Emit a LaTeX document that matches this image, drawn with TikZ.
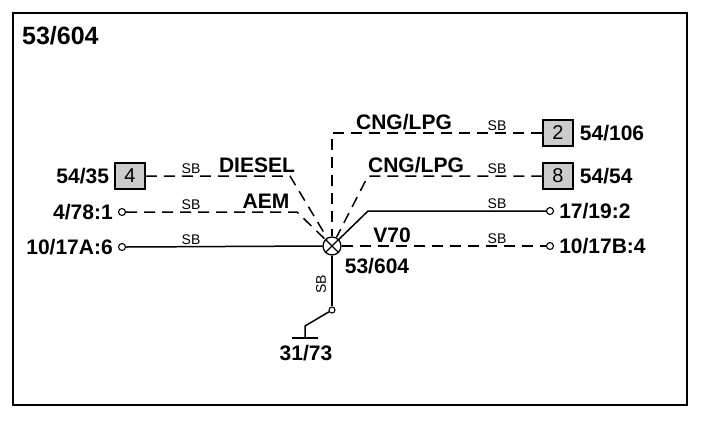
\documentclass[tikz,border=0pt]{standalone}
\usepackage{fontspec}
\setmainfont{Liberation Sans}
\usetikzlibrary{positioning}
\begin{document}
\begin{tikzpicture}[x=1pt,y=-1pt,
		wire/.style={line width=1.5pt},
		dwire/.style={line width=1.5pt, dash pattern=on 11pt off 7pt},
		term/.style={circle, draw, line width=1.1pt, fill=white, minimum size=7pt, inner sep=0pt},
		plug/.style={draw, line width=1.5pt, fill=black!20, minimum width=30pt, minimum height=26pt, inner sep=0pt, font=\fontsize{20}{20}\selectfont},
		lbl/.style={font=\bfseries\fontsize{21}{21}\selectfont, inner sep=1pt},
		sblbl/.style={font=\fontsize{14}{14}\selectfont, inner sep=0pt, anchor=base}]
		\useasboundingbox (0,0) rectangle (704,432);
		\draw[line width=2.5pt] (13,13) rectangle (687,405);
		\node[anchor=west, font=\bfseries\fontsize{25}{25}\selectfont, inner sep=0pt] (title) at (22,36) {53/604};
		
		\node[circle, draw, line width=1.3pt, minimum size=18pt, inner sep=0pt] (J) at (332,246) {};
		\draw[line width=1.2pt] (J.north east) -- (J.south west) (J.north west) -- (J.south east);
		
		\node[plug] (b4) at (130,176) {4};
		\node[term] (c478) at (122,212) {};
		\node[term] (c1017a) at (122,247) {};
		\node[lbl, left=4pt of b4] {54/35};
		\node[lbl, left=4pt of c478] {4/78:1};
		\node[lbl, left=4pt of c1017a] {10/17A:6};
		
		\node[plug] (b2) at (558,133) {2};
		\node[plug] (b8) at (558,176) {8};
		\node[term] (c1719) at (550,211) {};
		\node[term] (c1017b) at (550,246) {};
		\node[lbl, right=5pt of b2] {54/106};
		\node[lbl, right=5pt of b8] {54/54};
		\node[lbl, right=4pt of c1719] {17/19:2};
		\node[lbl, right=4pt of c1017b] {10/17B:4};
		
		\coordinate (kdiesel) at (290,176);
		\coordinate (kaem) at (297,212);
		\coordinate (kcng) at (332,133);
		\coordinate (kcng2) at (368,176);
		\coordinate (k1719) at (368,211);
		
		\draw[dwire] (b4.east) -- (kdiesel) -- (J);
		\draw[dwire] (c478.east) -- (kaem) -- (J);
		\draw[wire] (c1017a.east) -- (J.west);
		\draw[dwire] (b2.west) -- (kcng) -- (J);
		\draw[dwire] (b8.west) -- (kcng2) -- (J);
		\draw[wire] (c1719.west) -- (k1719) -- (J);
		\draw[dwire] (J.east) -- (c1017b.west);
		
		\node[sblbl] at (191,173) {SB};
		\node[sblbl] at (191,209) {SB};
		\node[sblbl] at (191,244) {SB};
		\node[sblbl] at (497,130) {SB};
		\node[sblbl] at (497,173) {SB};
		\node[sblbl] at (497,208) {SB};
		\node[sblbl] at (497,243) {SB};
		
		\node[lbl, anchor=base] at (257,172) {DIESEL};
		\node[lbl, anchor=base] at (266,208) {AEM};
		\node[lbl, anchor=base] at (404,129) {CNG/LPG};
		\node[lbl, anchor=base] at (416,172) {CNG/LPG};
		\node[lbl, anchor=base] at (392,242) {V70};
		\node[lbl, anchor=base] at (377,273) {53/604};
		
		\node[term, minimum size=6pt] (cgnd) at (332,310) {};
		\coordinate (kgnd) at (305,326);
		\coordinate (gnd) at (305,338);
		\draw[wire] (J.south) -- (cgnd);
		\draw[wire] (cgnd) -- (kgnd) -- (gnd);
		\draw[line width=1.6pt] (292,338) -- (318,338);
		\node[sblbl, rotate=90, anchor=center] at (321,284) {SB};
		\node[lbl, anchor=base] at (306,360) {31/73};
	\end{tikzpicture}
\end{document}
